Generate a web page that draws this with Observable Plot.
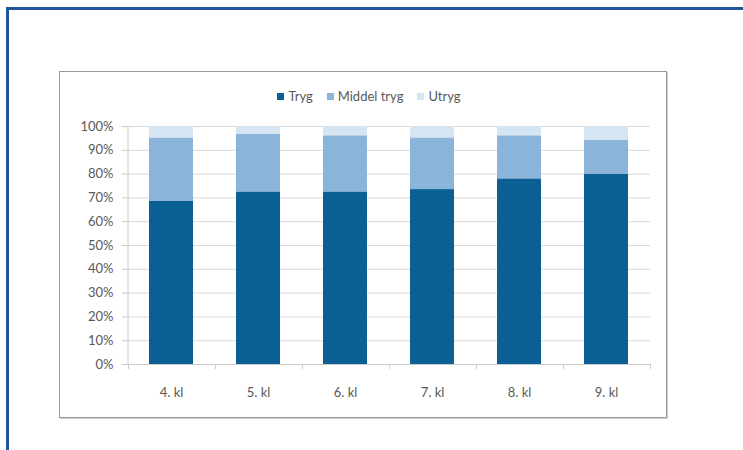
<!DOCTYPE html>
<html><head><meta charset="utf-8">
<script src="https://cdn.jsdelivr.net/npm/d3@7"></script>
<script src="https://cdn.jsdelivr.net/npm/@observablehq/plot@0.6"></script>
<style>
html,body{margin:0;padding:0;background:#fff;overflow:hidden}
#wrap{position:relative;width:743px;height:450px;font-family:Lato,"Open Sans",sans-serif;color:#595959}
#outer{position:absolute;left:6px;top:7px;width:800px;height:500px;border-left:3px solid #21579a;border-top:3px solid #21579a;box-sizing:border-box}
#box{position:absolute;left:59px;top:71px;width:608px;height:347px;border:1px solid #9a9a9a;box-shadow:1px 1px 0 #cfcfcf;box-sizing:border-box}
#legend{position:absolute;left:0;top:88px;width:738px;display:flex;justify-content:center;font-size:13px;line-height:16px}
#legend .item{display:flex;align-items:center;margin:0 7px}
#legend .sw{width:7px;height:7px;margin-right:4px}
#chart{position:absolute;left:0;top:0}
</style></head><body>
<div id="wrap">
<div id="outer"></div>
<div id="box"></div>
<div id="legend"></div>
<div id="chart"></div>
</div>
<script>
const categories = ["4. kl", "5. kl", "6. kl", "7. kl", "8. kl", "9. kl"];
const series = ["Tryg", "Middel tryg", "Utryg"];
const tryg   = [68.5, 72.5, 72.5, 73.5, 78.0, 80.0];
const middel = [26.7, 24.2, 23.6, 21.7, 18.1, 14.1];
const utryg  = [4.8, 3.3, 3.9, 4.8, 3.9, 5.9];
const colors = ["#0a5f94", "#8ab4da", "#d6e5f2"];
const yTicks = [0, 10, 20, 30, 40, 50, 60, 70, 80, 90, 100];

const seriesValues = [tryg, middel, utryg];
const rows = categories.flatMap((c, i) =>
  series.map((s, j) => ({cat: c, series: s, value: seriesValues[j][i]})));

const plot = Plot.plot({
  width: 743, height: 450,
  marginLeft: 127, marginRight: 93, marginTop: 126, marginBottom: 86,
  style: {background: "transparent", fontFamily: "Lato, 'Open Sans', sans-serif", fontSize: "13px", color: "#595959", overflow: "visible"},
  x: {domain: categories, paddingInner: 0.5, paddingOuter: 0.25, label: null},
  y: {domain: [0, 100], label: null},
  color: {domain: series, range: colors},
  marks: [
    Plot.ruleY(yTicks, {stroke: "#d9d9d9", strokeWidth: 1}),
    Plot.barY(rows, {x: "cat", y: "value", fill: "series"}),
    Plot.ruleY([0], {stroke: "#cccccc", strokeWidth: 1}),
    Plot.axisY({ticks: yTicks, tickFormat: d => d + "%", tickSize: 5, tickPadding: 9, stroke: "#cccccc", fill: "#595959", label: null}),
    Plot.axisX({tickSize: 0, tickPadding: 23, fill: "#595959", label: null})
  ]
});
document.getElementById("chart").appendChild(plot);

// Excel-style axis line and category boundary ticks, from Plot's own scales
const xs = plot.scale("x"), ys = plot.scale("y");
const st = xs.step, bw = xs.bandwidth;
const bounds = categories.map(c => xs.apply(c) - (st - bw) / 2);
bounds.push(bounds[bounds.length - 1] + st);
const svg = d3.select(plot);
const g = svg.append("g").attr("stroke", "#cccccc").attr("stroke-width", 1);
g.append("line").attr("x1", bounds[0] + 0.5).attr("x2", bounds[0] + 0.5)
  .attr("y1", ys.apply(100)).attr("y2", ys.apply(0) + 0.5);
bounds.forEach(b => g.append("line").attr("x1", Math.round(b) + 0.5).attr("x2", Math.round(b) + 0.5)
  .attr("y1", ys.apply(0)).attr("y2", ys.apply(0) + 5));

// legend
const legend = d3.select("#legend");
series.forEach((s, i) => {
  const it = legend.append("div").attr("class", "item");
  it.append("div").attr("class", "sw").style("background", colors[i]);
  it.append("span").text(s);
});
</script>
</body></html>
